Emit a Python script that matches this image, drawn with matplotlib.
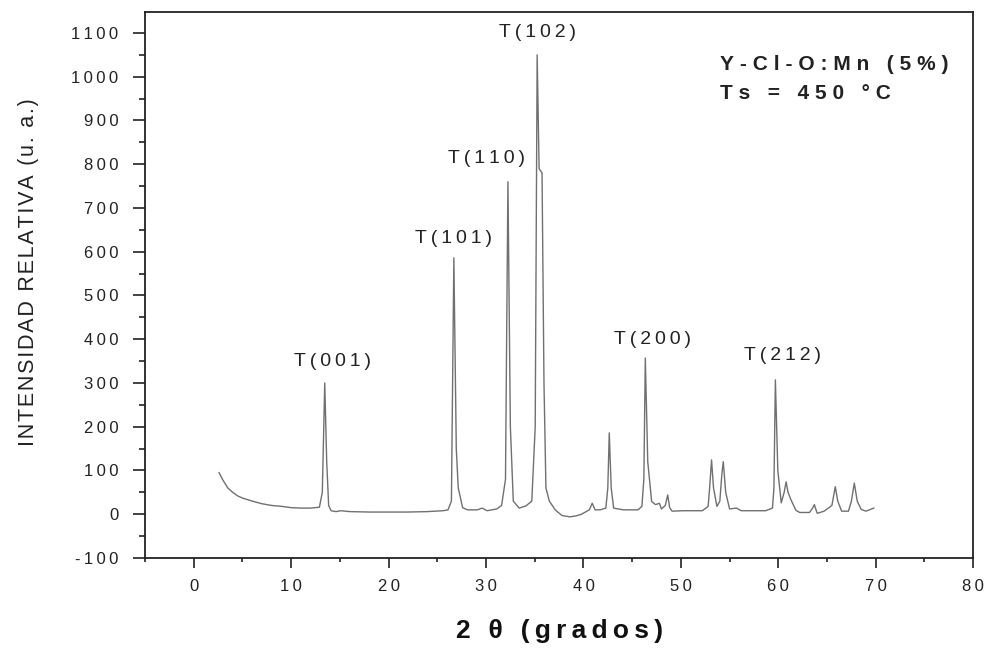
import matplotlib
matplotlib.use("Agg")
import matplotlib.pyplot as plt
from matplotlib.ticker import MultipleLocator, FuncFormatter

plt.rcParams['font.family'] = ['Liberation Sans', 'DejaVu Sans']

# ---- data ----
two_theta = [2.6, 3.0, 3.5, 4.0, 4.5, 5.0, 6.0, 7.0, 8.0, 9.0, 10.0, 11.0, 12.0, 12.9,
             13.2, 13.45, 13.65, 13.85, 14.1, 14.6, 15.1, 16.0, 18.0, 20.0, 22.0, 24.0, 25.6, 26.1,
             26.45, 26.7, 26.95, 27.15, 27.35, 27.6, 28.1, 29.1, 29.6, 30.1, 31.1, 31.6,
             32.0, 32.25, 32.5, 32.8, 33.4, 34.1, 34.7, 35.05, 35.25, 35.45, 35.75, 35.95,
             36.15, 36.5, 37.1, 37.8, 38.6, 39.2, 39.8, 40.6, 40.9, 41.2, 41.7, 42.3,
             42.5, 42.65, 42.85, 43.1, 44.1, 45.6, 46.0, 46.2, 46.35, 46.6, 47.0, 47.4,
             47.8, 48.0, 48.4, 48.65, 48.85, 49.1, 50.2, 52.2, 52.8, 52.95, 53.15, 53.35,
             53.7, 54.0, 54.2, 54.35, 54.6, 55.0, 55.7, 56.2, 58.7, 59.4, 59.55, 59.7,
             59.95, 60.3, 60.6, 60.8, 61.0, 61.3, 61.8, 62.2, 63.2, 63.55, 63.7, 63.9,
             64.0, 64.7, 65.5, 65.85, 66.1, 66.5, 67.2, 67.5, 67.8, 68.1, 68.5, 69.0, 69.8]
intensity = [95, 78, 60, 50, 42, 37, 30, 24, 20, 18, 15, 14, 14, 16,
             50, 300, 120, 20, 8, 6, 8, 6, 5, 5, 5, 6, 8, 10,
             30, 586, 150, 60, 40, 15, 10, 10, 14, 8, 12, 20,
             80, 760, 200, 30, 14, 19, 30, 200, 1050, 790, 780, 300,
             60, 30, 10, -3, -6, -4, 0, 10, 25, 10, 10, 14,
             60, 186, 60, 14, 10, 10, 18, 80, 357, 120, 29, 22,
             25, 12, 20, 44, 15, 7, 8, 8, 18, 60, 124, 60,
             18, 30, 90, 120, 50, 12, 14, 8, 8, 14, 60, 307,
             100, 26, 50, 74, 50, 33, 9, 4, 4, 15, 22, 8,
             2, 7, 20, 63, 30, 7, 7, 30, 71, 30, 11, 7, 14]

peak_labels = ["T(001)", "T(101)", "T(110)", "T(102)", "T(200)", "T(212)"]
peak_label_x = [14.2, 26.7, 30.1, 35.25, 47.1, 60.4]
peak_label_y = [350, 631, 814, 1100, 400, 362]

sample_text = ["Y-Cl-O:Mn (5%)", "Ts = 450 °C"]

TS = '\u2009'
HAIR = '\u200a'
WIDE = '\u2009\u200a'


def spaced(s, sep=TS):
    return sep.join(list(s))


fig = plt.figure(figsize=(9.89, 6.51), dpi=100)
ax = fig.add_axes([0.1466, 0.1429, 0.8374, 0.8387])

ax.plot(two_theta, intensity, color='#707070', lw=1.0)

ax.set_xlim(-5, 80)
ax.set_ylim(-100, 1148)

ax.xaxis.set_major_locator(MultipleLocator(10))
ax.xaxis.set_minor_locator(MultipleLocator(5))
ax.yaxis.set_major_locator(MultipleLocator(100))
ax.yaxis.set_minor_locator(MultipleLocator(50))

fmt = FuncFormatter(lambda v, p: spaced(f"{int(round(v))}"))
ax.xaxis.set_major_formatter(fmt)
ax.yaxis.set_major_formatter(fmt)

ax.tick_params(axis='y', which='major', direction='out', length=9, width=1.2,
               labelsize=12, pad=10, colors='#222222')
ax.tick_params(axis='y', which='minor', direction='out', length=4.5, width=1.2, colors='#222222')
ax.tick_params(axis='x', which='major', direction='out', length=7, width=1.2,
               labelsize=12, pad=8, colors='#222222')
ax.tick_params(axis='x', which='minor', direction='out', length=3, width=1.2, colors='#222222')

for s in ax.spines.values():
    s.set_linewidth(1.3)
    s.set_color('#222222')

ax.set_ylabel(spaced("INTENSIDAD RELATIVA (u. a.)", HAIR), fontsize=15.5, color='#222222')
ax.yaxis.set_label_coords(-0.128, 0.524)
ax.set_xlabel(spaced("2 θ (grados)"), fontsize=19, fontweight='bold', color='#111111')
ax.xaxis.set_label_coords(0.5, -0.112)

for lab, xv, yv in zip(peak_labels, peak_label_x, peak_label_y):
    ax.text(xv, yv, spaced(lab), ha='center', va='center', fontsize=14, color='#222222')

ax.text(54.0, 1029, spaced(sample_text[0], WIDE), ha='left', va='center', fontsize=15,
        fontweight='bold', color='#222222')
ax.text(54.0, 961, spaced(sample_text[1], WIDE), ha='left', va='center', fontsize=15,
        fontweight='bold', color='#222222')

fig.savefig("out.png", dpi=100)
